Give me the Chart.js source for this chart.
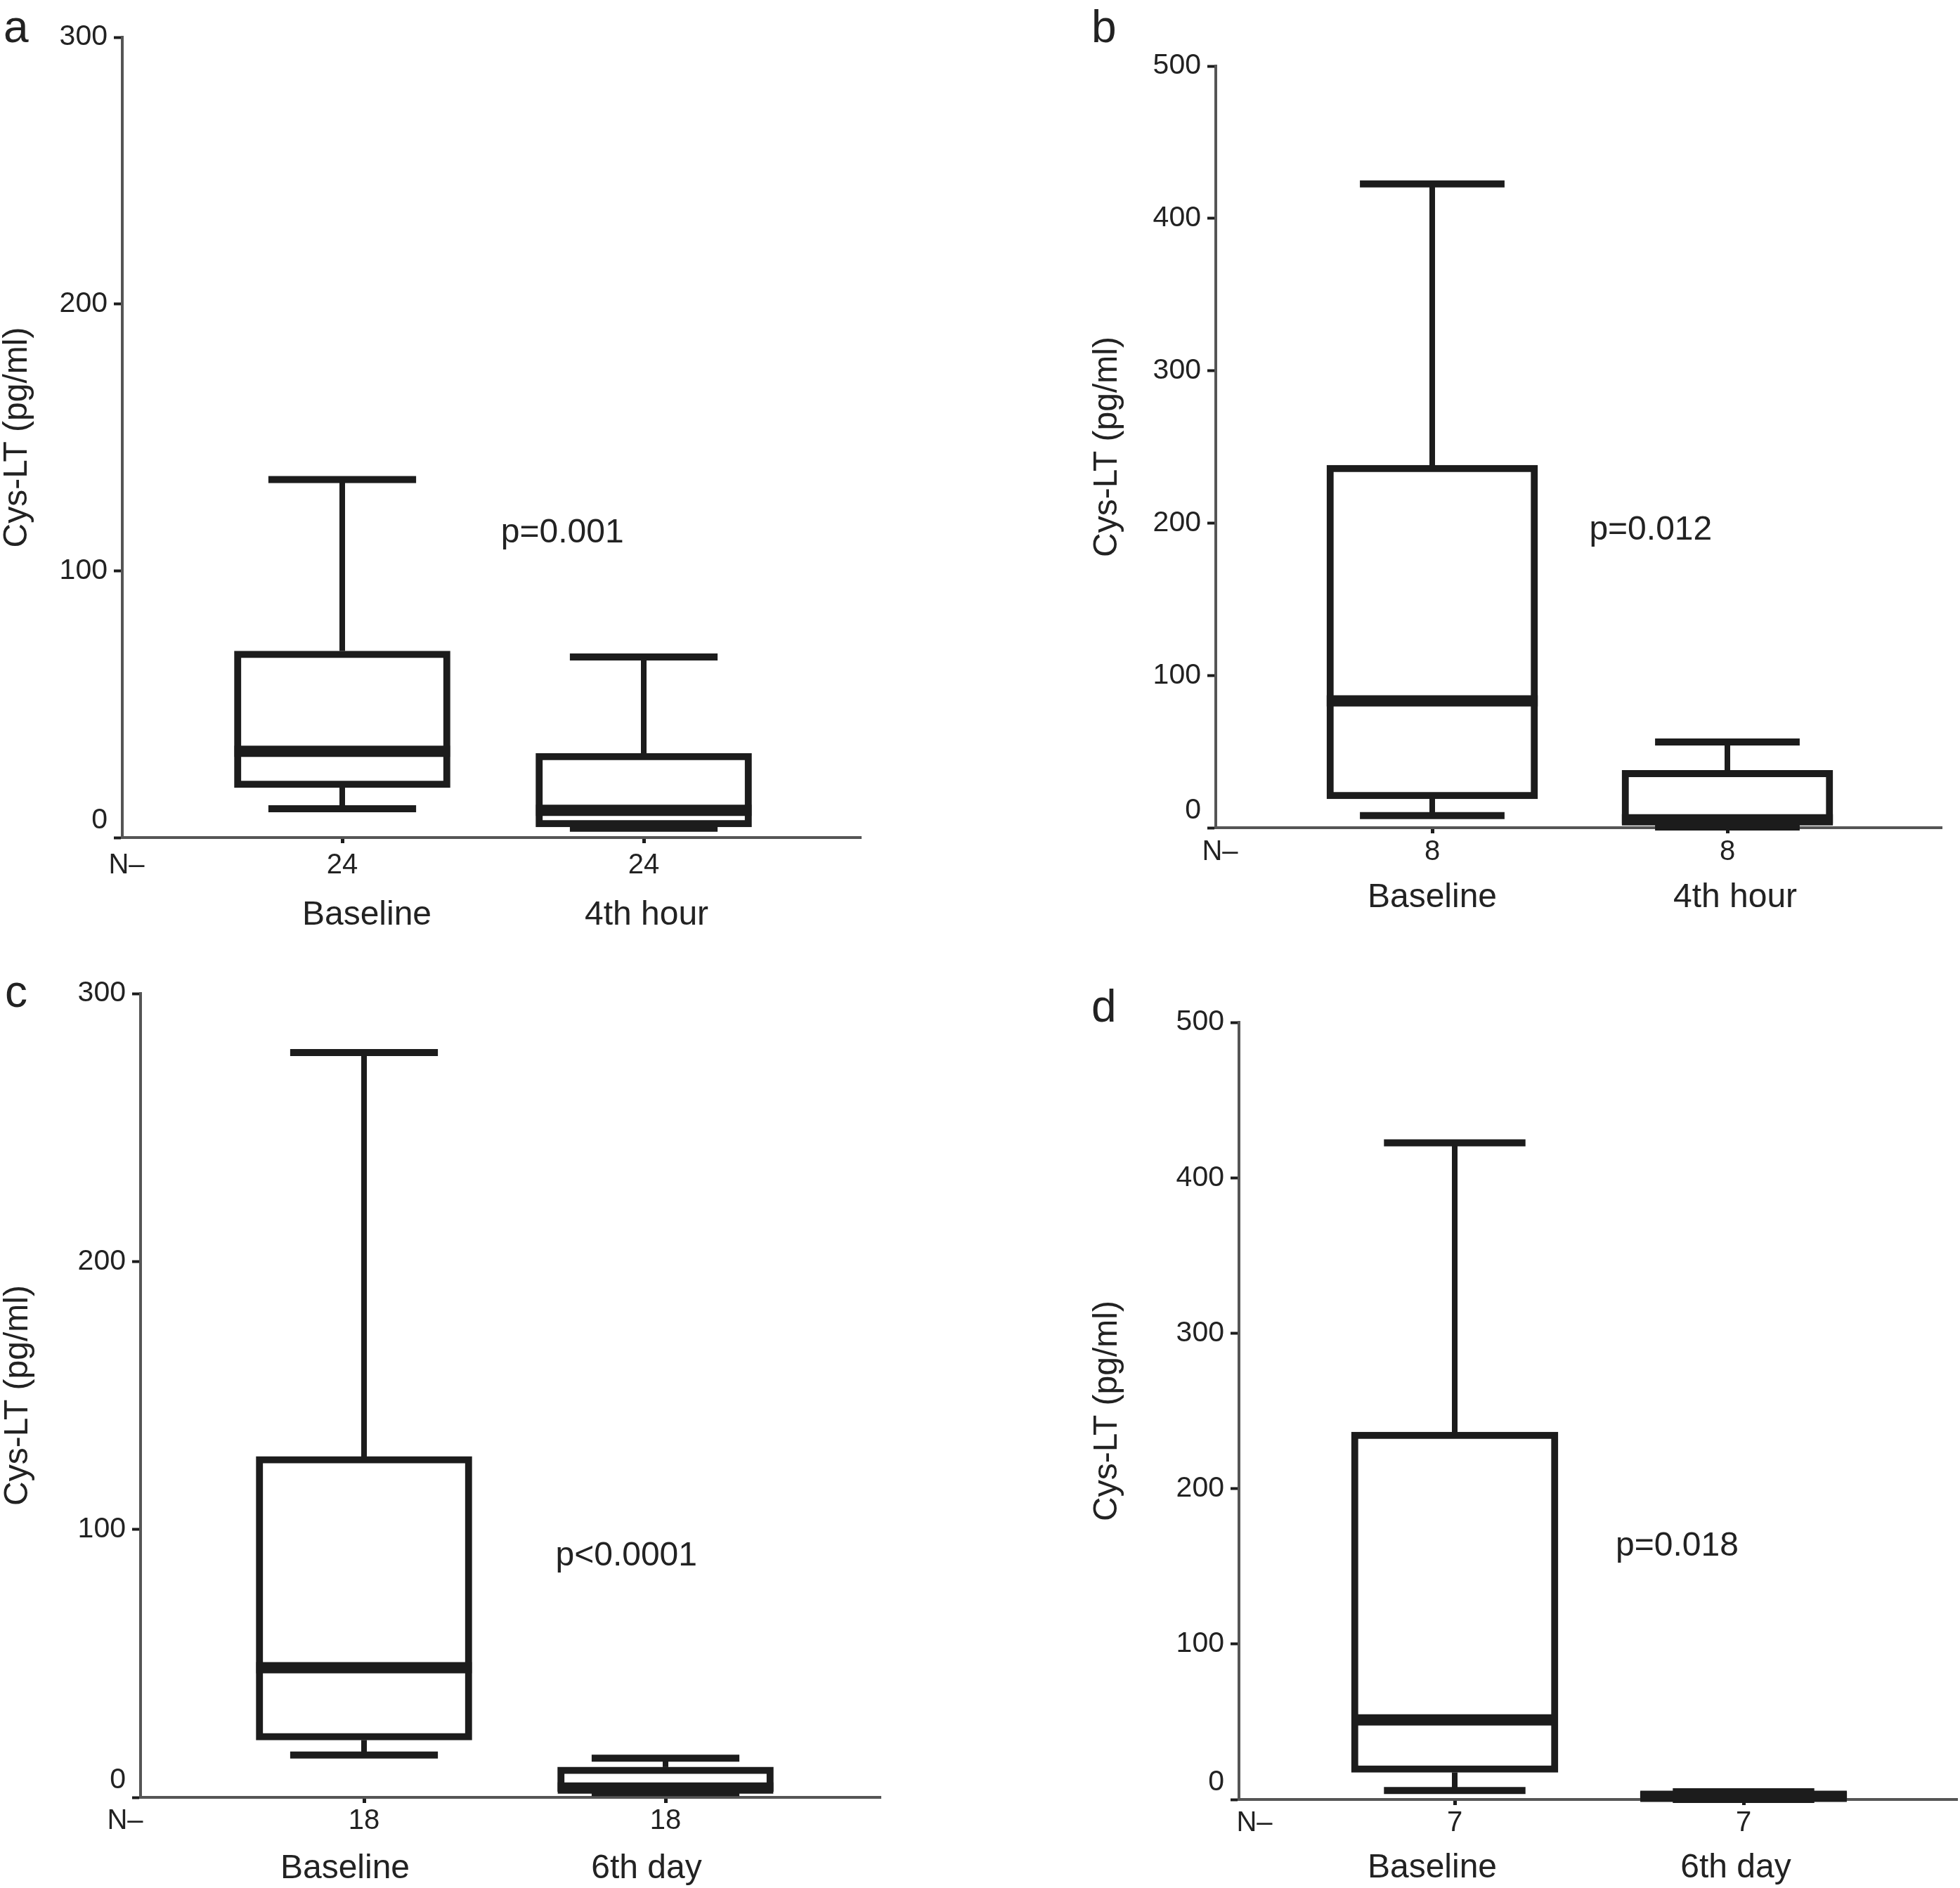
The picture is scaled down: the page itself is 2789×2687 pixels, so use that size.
<!DOCTYPE html>
<html>
<head>
<meta charset="utf-8">
<script src="https://cdn.jsdelivr.net/npm/chart.js@4.4.1/dist/chart.umd.min.js"></script>
<style>
  html, body { margin: 0; padding: 0; background: #fff; }
  body { width: 2789px; height: 2687px; position: relative; overflow: hidden; }
  canvas { position: absolute; }
</style>
</head>
<body>
<canvas id="pa"></canvas>
<canvas id="pb"></canvas>
<canvas id="pc"></canvas>
<canvas id="pd"></canvas>
<script>
const catsHour = ['Baseline', '4th hour'];
const catsDay = ['Baseline', '6th day'];
const nA = [24, 24], nB = [8, 8], nC = [18, 18], nD = [7, 7];

// each row: min, q1, median, q3, max  (pg/ml)
const boxA = [[10.8, 18.7, 32.3, 69.9, 134.2], [3.5, 4, 10.2, 31.6, 67.7]];
const boxB = [[7.9, 19, 83.3, 238, 422.6], [0.5, 2.8, 5.2, 37.7, 56.3]];
const boxC = [[15.8, 21.4, 48.4, 127.2, 278], [1.8, 2.2, 3.5, 11.3, 14.6]];
const boxD = [[5.8, 17.4, 51.2, 236.4, 422.5], [0, 0.5, 2, 5, 5]];

const yMax = [300, 500, 300, 500];
const pText = ['p=0.001', 'p=0.012', 'p<0.0001', 'p=0.018'];
const pAt = [[1.73, 114], [1.74, 195], [1.87, 90], [1.77, 163]]; // x category, y value
const letters = ['a', 'b', 'c', 'd'];

const FONT = '"Liberation Sans", Arial, Helvetica, sans-serif';
const INK = '#1c1c1c', AXIS = '#555', TXT = '#222';

// page geometry of each panel (px)
const panels = [
  { id: 'pa', left: 0, top: 0, w: 1394, h: 1343, L: 174, R: 1225, T: 53, B: 1192, c1: 487, c2: 916,
    titleX: 25, nX: 180, nameX: [522, 920], nOff: 40, catOff: 111, letterAt: [5, 60], cats: catsHour, n: nA, boxes: boxA },
  { id: 'pb', left: 1394, top: 0, w: 1395, h: 1343, L: 1730, R: 2763, T: 94, B: 1178, c1: 2038, c2: 2458,
    titleX: 1576, nX: 1736, nameX: [2038, 2469], nOff: 35, catOff: 100, letterAt: [159, 60], cats: catsHour, n: nB, boxes: boxB },
  { id: 'pc', left: 0, top: 1343, w: 1394, h: 1344, L: 200, R: 1253, T: 1414, B: 2558, c1: 518, c2: 947,
    titleX: 26, nX: 178, nameX: [491, 920], nOff: 34, catOff: 102, letterAt: [7, 90], cats: catsDay, n: nC, boxes: boxC },
  { id: 'pd', left: 1394, top: 1343, w: 1395, h: 1344, L: 1763, R: 2785, T: 1455, B: 2561, c1: 2070, c2: 2481,
    titleX: 1576, nX: 1785, nameX: [2038, 2470], nOff: 34, catOff: 98, letterAt: [159, 111], cats: catsDay, n: nD, boxes: boxD },
];

function boxPlugin(p, i) {
  return {
    id: 'boxPlot' + i,
    afterDatasetsDraw(chart) {
      const { ctx, scales: { x, y } } = chart;
      const u = x.getPixelForValue(2) - x.getPixelForValue(1);
      const seg = (x0, y0, x1, y1) => { ctx.beginPath(); ctx.moveTo(x0, y0); ctx.lineTo(x1, y1); ctx.stroke(); };
      ctx.save();
      ctx.strokeStyle = INK;
      ctx.lineCap = 'butt';
      p.boxes.forEach((b, k) => {
        const cx = x.getPixelForValue(k + 1);
        const [mn, q1, md, q3, mx] = b.map(v => y.getPixelForValue(v));
        ctx.lineWidth = 8;
        seg(cx, q3, cx, mx);
        seg(cx, q1, cx, mn);
        ctx.lineWidth = 10;
        seg(cx - 0.245 * u, mx, cx + 0.245 * u, mx);
        seg(cx - 0.245 * u, mn, cx + 0.245 * u, mn);
        ctx.lineWidth = 16;
        seg(cx - 0.3575 * u, md, cx + 0.3575 * u, md);
      });
      ctx.fillStyle = TXT;
      ctx.font = '48px ' + FONT;
      ctx.textAlign = 'center';
      ctx.textBaseline = 'middle';
      ctx.fillText(pText[i], x.getPixelForValue(pAt[i][0]), y.getPixelForValue(pAt[i][1]));
      ctx.textAlign = 'left';
      ctx.textBaseline = 'alphabetic';
      ctx.font = '64px ' + FONT;
      ctx.fillText(letters[i], p.letterAt[0], p.letterAt[1]);
      ctx.restore();
    }
  };
}

panels.forEach((p, i) => {
  const cv = document.getElementById(p.id);
  cv.width = p.w; cv.height = p.h;
  cv.style.left = p.left + 'px'; cv.style.top = p.top + 'px';
  cv.style.width = p.w + 'px'; cv.style.height = p.h + 'px';

  const u = p.c2 - p.c1;
  const toX = px => 1 + (px - p.c1) / u;
  const xMin = toX(p.L), xMax = toX(p.R);
  const padLeft = p.titleX - p.left - 24;
  const yW = p.L - p.left - padLeft;
  const countH = 60, nameH = p.top + p.h - p.B - countH;

  new Chart(cv, {
    type: 'bar',
    data: {
      datasets: [{
        data: p.boxes.map((b, k) => ({ x: k + 1, y: [b[1], b[3]] })),
        backgroundColor: '#fff', borderColor: INK, borderWidth: 10, borderSkipped: false,
        barThickness: Math.round(0.715 * u),
      }]
    },
    options: {
      responsive: false, devicePixelRatio: 1, animation: false,
      layout: { padding: { left: padLeft, top: p.T - p.top, right: p.left + p.w - p.R, bottom: 0 } },
      plugins: { legend: { display: false }, tooltip: { enabled: false } },
      scales: {
        x: {
          type: 'linear', position: 'bottom', min: xMin, max: xMax, offset: false, weight: 0,
          afterBuildTicks: s => { s.ticks = [{ value: toX(p.nX) }, { value: 1 }, { value: 2 }]; },
          afterFit: s => { s.height = countH; },
          border: { color: AXIS, width: 4 },
          grid: { drawOnChartArea: false, offset: false, tickLength: 8, tickWidth: 5,
                  tickColor: c => c.index === 0 ? 'rgba(0,0,0,0)' : INK },
          ticks: { autoSkip: false, maxRotation: 0, minRotation: 0, padding: p.nOff - 32, color: TXT,
                   font: { family: FONT, size: 40 },
                   callback: (v, k) => k === 0 ? 'N–' : String(p.n[k - 1]) }
        },
        x2: {
          type: 'linear', axis: 'x', position: 'bottom', min: xMin, max: xMax, offset: false, weight: 1,
          afterBuildTicks: s => { s.ticks = p.nameX.map(px => ({ value: toX(px) })); },
          afterFit: s => { s.height = nameH; },
          border: { display: false },
          grid: { display: false, drawTicks: false, drawOnChartArea: false },
          ticks: { autoSkip: false, maxRotation: 0, minRotation: 0, padding: p.catOff - countH - 28.8, color: TXT,
                   font: { family: FONT, size: 48 },
                   callback: (v, k) => p.cats[k] }
        },
        y: {
          type: 'linear', min: 0, max: yMax[i],
          afterFit: s => { s.width = yW; },
          border: { color: AXIS, width: 4 },
          grid: { drawOnChartArea: false, tickLength: 12, tickWidth: 4, tickColor: INK },
          ticks: { stepSize: 100, padding: 9, color: TXT, font: { family: FONT, size: 41 },
                   callback: v => v === 0 ? ['0', ''] : String(v) },
          title: { display: true, text: 'Cys-LT (pg/ml)', color: TXT, padding: 0,
                   font: { family: FONT, size: 48, lineHeight: 1 } }
        }
      }
    },
    plugins: [boxPlugin(p, i)]
  });
});
</script>
</body>
</html>
